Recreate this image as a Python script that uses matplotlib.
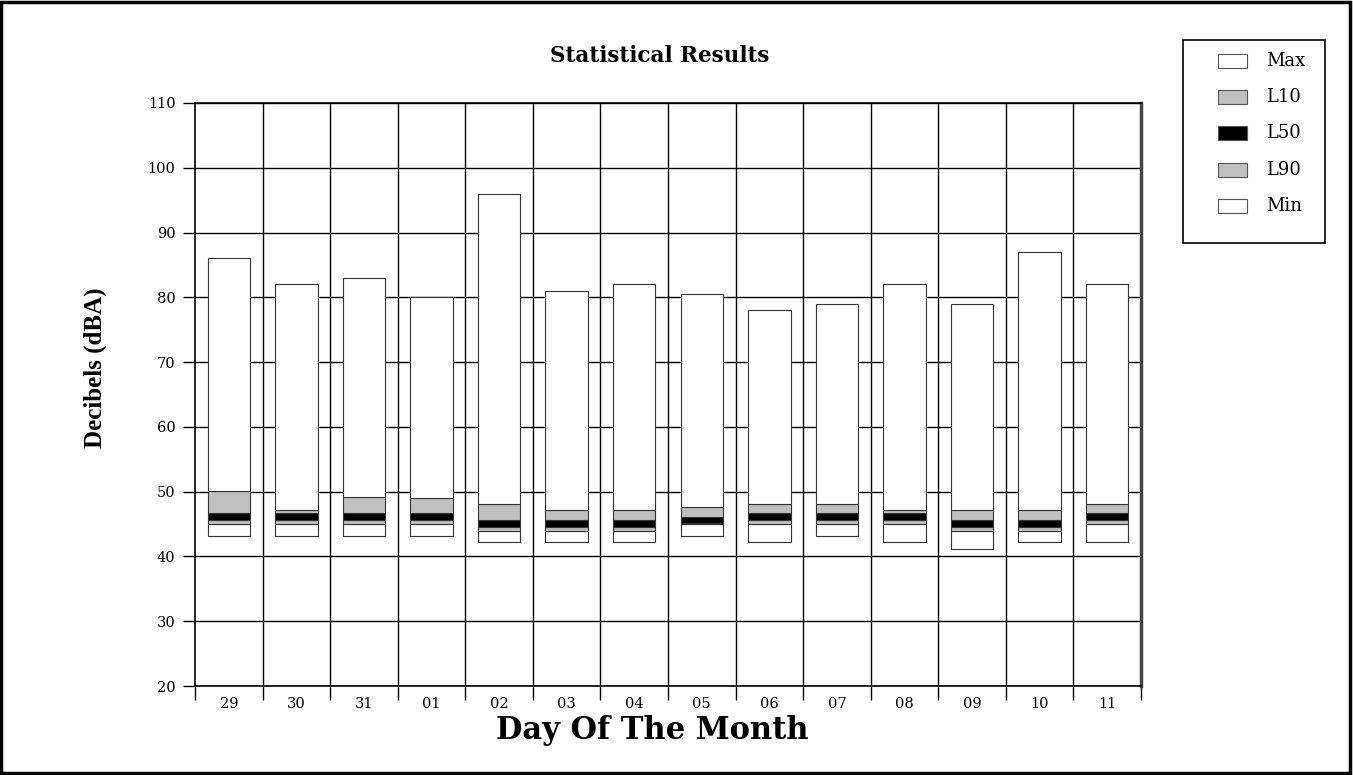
import matplotlib
matplotlib.use("Agg")
from matplotlib import pyplot as plt
from matplotlib.patches import Rectangle
import numpy as np

plt.rcParams['font.family'] = ['DejaVu Serif']

# ============== DONNÉES ==============
days = ['29', '30', '31', '01', '02', '03', '04', '05', '06', '07', '08', '09', '10', '11']

# bas de chaque barre, puis le haut de chaque série empilée (dBA)
bar_base = [43.2, 43.2, 43.2, 43.2, 42.2, 42.2, 42.2, 43.2, 42.2, 43.2, 42.2, 41.2, 42.2, 42.2]
min_top = [45.0, 45.0, 45.0, 45.0, 44.0, 44.0, 44.0, 45.0, 45.0, 45.0, 45.0, 44.0, 44.0, 45.0]
l90_top = [45.6, 45.6, 45.6, 45.6, 44.6, 44.6, 44.6, 45.2, 45.6, 45.6, 45.6, 44.6, 44.6, 45.6]
l50_top = [46.7, 46.7, 46.7, 46.7, 45.6, 45.6, 45.6, 46.1, 46.7, 46.7, 46.7, 45.6, 45.6, 46.7]
l10_top = [50.1, 47.2, 49.1, 49.0, 48.1, 47.1, 47.1, 47.6, 48.1, 48.1, 47.1, 47.1, 47.1, 48.1]
max_top = [86.0, 82.0, 83.0, 80.0, 96.0, 81.0, 82.0, 80.5, 78.0, 79.0, 82.0, 79.0, 87.0, 82.0]

series = [('Min', bar_base, min_top, 'white'),
          ('L90', min_top, l90_top, '#c0c0c0'),
          ('L50', l90_top, l50_top, 'black'),
          ('L10', l50_top, l10_top, '#c0c0c0'),
          ('Max', l10_top, max_top, 'white')]

# ============== FIGURE ==============
W, H = 1353, 775
fig = plt.figure(figsize=(W / 100, H / 100), dpi=100)
ax = fig.add_axes([195 / W, 1 - 686 / H, (1141 - 195) / W, (686 - 103) / H])

x = np.arange(len(days))
for name, lo, hi, color in series:
    lo = np.array(lo)
    hi = np.array(hi)
    ax.bar(x, hi - lo, bottom=lo, width=0.63, color=color,
           edgecolor='#333333', linewidth=0.8, zorder=3)

ax.set_xlim(-0.5, len(days) - 0.5)
ax.set_ylim(20, 110)
ax.set_yticks(np.arange(20, 111, 10))
ax.yaxis.grid(True, color='black', linewidth=1, zorder=0)
for b in np.arange(0.5, len(days) - 0.5):
    ax.axvline(b, color='black', linewidth=1, zorder=0)

ax.set_xticks(x)
ax.set_xticklabels(days)
ax.set_xticks(np.arange(-0.5, len(days)), minor=True)
ax.tick_params(axis='x', which='major', length=0, pad=8, labelsize=10.5)
ax.tick_params(axis='x', which='minor', length=10, width=1, direction='out')
ax.tick_params(axis='y', length=9, width=1, direction='out', labelsize=10.5, pad=5)

for side in ['top', 'bottom', 'left']:
    ax.spines[side].set_linewidth(1.2)
ax.spines['right'].set_linewidth(2.5)
ax.spines['right'].set_color('#444444')

fig.text(660 / W, 1 - 56 / H, 'Statistical Results', ha='center', va='center',
         fontsize=15.5, fontweight='bold')
fig.text(652 / W, 1 - 731 / H, 'Day Of The Month', ha='center', va='center',
         fontsize=22, fontweight='bold')
fig.text(95 / W, 1 - 368 / H, 'Decibels (dBA)', ha='center', va='center',
         rotation=90, fontsize=18, fontweight='bold', family='Liberation Serif')

# ============== LÉGENDE ==============
fig.patches.append(Rectangle((1183 / W, 1 - 243 / H), 142 / W, 203 / H,
                             transform=fig.transFigure, fill=False,
                             edgecolor='black', linewidth=1.2))
legend_items = [('Max', 'white'), ('L10', '#c0c0c0'), ('L50', 'black'),
                ('L90', '#c0c0c0'), ('Min', 'white')]
for i, (label, color) in enumerate(legend_items):
    yc = 61 + i * 36.2
    fig.patches.append(Rectangle((1218 / W, 1 - (yc + 7) / H), 29 / W, 14 / H,
                                 transform=fig.transFigure, facecolor=color,
                                 edgecolor='#555555', linewidth=0.8))
    fig.text(1266 / W, 1 - yc / H, label, ha='left', va='center', fontsize=13)

# cadre autour de la figure
fig.patches.append(Rectangle((0.001, 0.002), 0.997, 0.995, transform=fig.transFigure,
                             fill=False, edgecolor='black', linewidth=2.5))

fig.savefig('out.png', dpi=100)
